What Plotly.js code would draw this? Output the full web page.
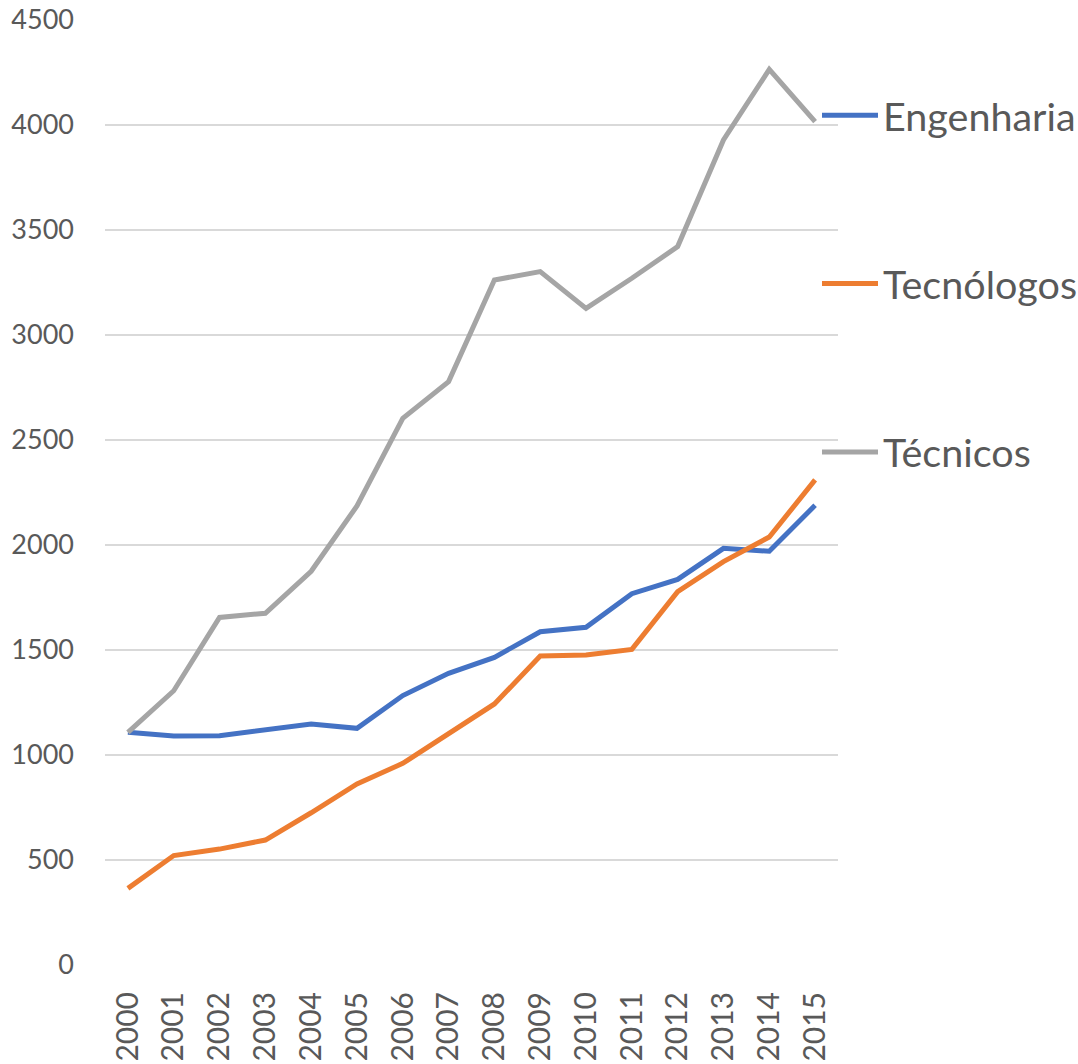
<!DOCTYPE html>
<html>
<head>
<meta charset="utf-8">
<script src="https://cdn.plot.ly/plotly-3.0.1.min.js"></script>
<style>html,body{margin:0;padding:0;background:#fff;}#chart{width:1078px;height:1064px;}</style>
</head>
<body>
<div id="chart"></div>
<script>
const years = ["2000","2001","2002","2003","2004","2005","2006","2007","2008","2009","2010","2011","2012","2013","2014","2015"];
const engenharia = [1108,1090,1092,1120,1148,1127,1283,1389,1465,1587,1608,1768,1836,1984,1970,2189];
const tecnologos = [365,521,552,595,725,862,960,1103,1243,1471,1476,1503,1778,1921,2038,2310];
const tecnicos = [1108,1306,1655,1675,1875,2186,2603,2778,3262,3302,3127,3270,3421,3929,4265,4016];
const seriesNames = ["Engenharia","Tecnólogos","Técnicos"];
const seriesColors = ["#4472C4","#ED7D31","#A5A5A5"];
const yTicks = [0,500,1000,1500,2000,2500,3000,3500,4000,4500];

const allSeries = [engenharia, tecnologos, tecnicos];
const traces = allSeries.map((vals, i) => ({
  type: 'scatter', mode: 'lines', x: years, y: vals, name: seriesNames[i],
  legendgroup: 'g' + i,
  line: {color: seriesColors[i], width: 5, shape: 'linear'}
}));
const font = "Lato, 'Open Sans', sans-serif";
const layout = {
  width: 1078, height: 1064,
  margin: {l: 105, r: 240, t: 20, b: 99, autoexpand: false},
  paper_bgcolor: '#fff', plot_bgcolor: '#fff',
  font: {family: font, color: '#595959'},
  xaxis: {
    type: 'category', range: [-0.5, years.length - 0.5], tickangle: -90,
    showgrid: false, zeroline: false, showline: false, ticks: '',
    tickfont: {size: 30, color: '#595959', family: font},
    ticklabelstandoff: 20
  },
  yaxis: {
    range: [0, 4500], tickvals: yTicks, showgrid: true, gridcolor: '#D9D9D9', gridwidth: 1.5,
    zeroline: false, showline: false, ticks: '',
    tickfont: {size: 27, color: '#595959', family: font}, ticklabelstandoff: 30
  },
  showlegend: true,
  legend: {
    xref: 'container', yref: 'container',
    x: 817/1078, xanchor: 'left', y: 1 - 83/1064, yanchor: 'top',
    font: {size: 39.5, color: '#595959', family: font},
    tracegroupgap: 114, itemwidth: 56, bgcolor: 'rgba(0,0,0,0)'
  }
};
Plotly.newPlot('chart', traces, layout, {displayModeBar: false, staticPlot: true});
</script>
</body>
</html>
